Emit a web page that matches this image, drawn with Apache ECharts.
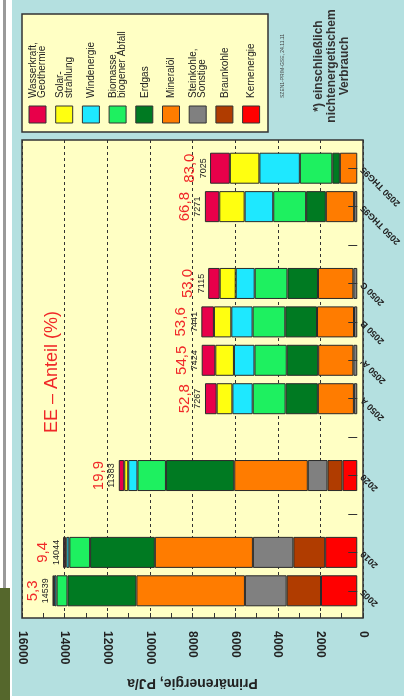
<!DOCTYPE html>
<html><head><meta charset="utf-8">
<script src="https://cdn.jsdelivr.net/npm/echarts@6/dist/echarts.min.js"></script>
<style>html,body{margin:0;padding:0;background:#fff}#c{width:404px;height:700px}</style>
</head><body><div id="c"></div>
<script>
// Categories bottom -> top
const categories = ['2005','2010','','2020','','2050 A',"2050 A'",'2050 B','2050 C','','2050 THG95','2050 THG95'];
// series in stack order (from 0 outward)
const seriesNames = ['Kernenergie','Braunkohle','Steinkohle, Sonstige','Mineralöl','Erdgas','Biomasse, biogener Abfall','Windenergie','Solarstrahlung','Wasserkraft, Geothermie'];
const legendLabels = ['Wasserkraft,\nGeothermie','Solar-\nstrahlung','Windenergie','Biomasse,\nbiogener Abfall','Erdgas','Mineralöl','Steinkohle,\nSonstige','Braunkohle','Kernenergie'];
const kern   = [1730,1530,null, 700,null,null,null,null,null,null,null,null];
const braun  = [1640,1520,null, 720,null,null,null,null,null,null,null,null];
const stein  = [1990,1930,null, 940,null, 160, 185, 155, 185,null, 150,null];
const oel    = [5180,4680,null,3510,null,1720,1680,1765,1690,null,1350, 830];
const gas    = [3290,3090,null,3260,null,1540,1500,1515,1455,null, 940, 360];
const bio    = [ 520, 990,null,1360,null,1570,1540,1560,1565,null,1570,1550];
const wind   = [ 100, 140,null, 440,null, 970, 980,1015, 905,null,1365,1930];
const solar  = [  30,  60,null, 190,null, 750, 890, 830, 765,null,1210,1410];
const wasser = [  60, 100,null, 260,null, 557, 649, 601, 550,null, 686, 945];
const totals  = ['14539','14044','','11383','','7267','7424','7441','7115','','7271','7025'];
const eeShare = ['5,3','9,4','','19,9','','52,8','54,5','53,6','53,0','','66,8','83,0'];
const valueMin = 0, valueMax = 16000, valueStep = 2000;

const seriesData = [kern, braun, stein, oel, gas, bio, wind, solar, wasser];
const colors = ['#ff0000','#b03c00','#808080','#ff7c00','#007a22','#1ef060','#1ee8ff','#ffff10','#e8004a'];

const chart = echarts.init(document.getElementById('c'));
const font = 'Liberation Sans, Arial, sans-serif';

const series = seriesData.map((d, k) => ({
  name: seriesNames[k], type: 'bar', stack: 'total', xAxisIndex: 1, yAxisIndex: 1,
  data: d, barWidth: 31,
  itemStyle: { color: colors[k], borderColor: '#2a2a2a', borderWidth: 1 },
  label: k === seriesData.length - 1 ? {
    show: true, position: 'left', rotate: 90, align: 'center', verticalAlign: 'bottom', distance: 2,
    formatter: p => '{ee|' + eeShare[p.dataIndex] + '}\n{tot|' + totals[p.dataIndex] + '}',
    rich: {
      ee: { color: '#f02828', fontSize: 15, fontFamily: font, lineHeight: 16 },
      tot: { color: '#222', fontSize: 9, fontFamily: font, lineHeight: 10 }
    }
  } : { show: false },
  emphasis: { disabled: true }, animation: false
}));

// legend drawn as graphics (rotated text)
const graphics = [
  { type: 'rect', shape: { x: 12, y: 0, width: 392, height: 696 }, style: { fill: '#b4e0e0' }, z: -10 },
  { type: 'rect', shape: { x: 3, y: 0, width: 3, height: 588 }, style: { fill: '#9a9a9a' }, z: -10 },
  { type: 'rect', shape: { x: 0, y: 588, width: 10, height: 112 }, style: { fill: '#55672c' }, z: -10 },
  { type: 'rect', shape: { x: 22, y: 14, width: 246, height: 118 }, style: { fill: '#ffffc4', stroke: '#333', lineWidth: 1.5 }, z: -5 }
];
const legendColors = colors.slice().reverse();
legendLabels.forEach((t, i) => {
  const cx = 38 + i * 26.7;
  graphics.push({ type: 'rect', shape: { x: cx - 9, y: 106, width: 17, height: 17 }, style: { fill: legendColors[i], stroke: '#333', lineWidth: 1 } });
  graphics.push({ type: 'text', x: cx, y: 98, rotation: Math.PI / 2,
    style: { text: t, fill: '#222', font: '10px ' + font, align: 'left', verticalAlign: 'middle', lineHeight: 9 } });
});
graphics.push({ type: 'text', x: 283, y: 98, rotation: Math.PI / 2,
  style: { text: 'SZEN1-PRIM-GSE, 24.11.11', fill: '#444', font: '5px ' + font, align: 'left', verticalAlign: 'middle' } });
graphics.push({ type: 'text', x: 332, y: 66, rotation: Math.PI / 2,
  style: { text: '*) einschließlich\nnichtenergetischem\nVerbrauch', fill: '#333', font: 'bold 12px ' + font, align: 'center', verticalAlign: 'middle', lineHeight: 13 } });
graphics.push({ type: 'text', x: 52, y: 372, rotation: Math.PI / 2,
  style: { text: 'EE – Anteil (%)', fill: '#f02828', font: '18px ' + font, align: 'center', verticalAlign: 'middle' } });

chart.setOption({
  animation: false,
  backgroundColor: '#ffffff',
  grid: [
    { left: 22, right: 41, top: 140, bottom: 82, show: true, backgroundColor: '#ffffc4', borderColor: '#333', borderWidth: 1.5, z: 0 },
    { left: 22, right: 41, top: 149, bottom: 90 }
  ],
  xAxis: [
    { gridIndex: 0, type: 'value', min: valueMin, max: valueMax, interval: valueStep, inverse: true,
      axisLine: { show: false },
      axisTick: { show: true, inside: true, length: 5, lineStyle: { color: '#333' } },
      minorTick: { show: true, splitNumber: 2, length: 5, lineStyle: { color: '#333' } },
      splitLine: { show: true, lineStyle: { color: '#333', type: [3, 3], width: 1 } },
      axisLabel: { rotate: -90, align: 'left', verticalAlign: 'middle', margin: 13, color: '#222', fontSize: 12, fontWeight: 'bold', fontFamily: font,
        formatter: v => String(v) },
      name: 'Primärenergie, PJ/a', nameLocation: 'middle', nameGap: 58, nameRotate: 180,
      nameTextStyle: { color: '#222', fontSize: 14, fontWeight: 'bold', fontFamily: font }
    },
    { gridIndex: 1, type: 'value', min: valueMin, max: valueMax, interval: valueStep, inverse: true, show: false }
  ],
  yAxis: [
    { gridIndex: 0, type: 'category', data: categories, show: false },
    { gridIndex: 1, type: 'category', data: categories, position: 'right', z: 5,
      axisLine: { show: false },
      axisTick: { show: true, inside: true, alignWithLabel: true, length: 9, lineStyle: { color: '#333' } },
      axisLabel: { rotate: 135, align: 'right', verticalAlign: 'middle', margin: 5, color: '#222', fontSize: 9, fontWeight: 'bold', fontFamily: font, interval: 0 }
    }
  ],
  graphic: graphics,
  series: series
});
</script></body></html>
